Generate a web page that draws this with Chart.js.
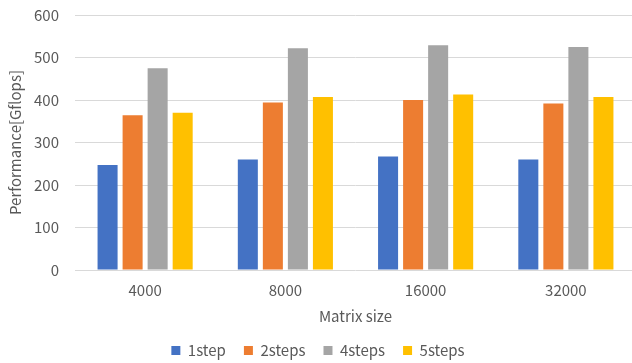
<!DOCTYPE html>
<html>
<head>
<meta charset="utf-8">
<script src="https://cdn.jsdelivr.net/npm/chart.js@4"></script>
<style>
  html, body { margin: 0; padding: 0; background: #fff; overflow: hidden; }
  #wrap { width: 636px; height: 363px; }
</style>
</head>
<body>
<div id="wrap"><canvas id="perfChart"></canvas></div>
<script>
// datos
const matrixSizes = ["4000", "8000", "16000", "32000"];
const seriesNames = ["1step", "2steps", "4steps", "5steps"];
const step1 = [247, 260, 267, 260];
const steps2 = [364, 394, 400, 392];
const steps4 = [475, 522, 529, 525];
const steps5 = [370, 407, 413, 407];
const yTicks = [0, 100, 200, 300, 400, 500, 600];

const colors = ["#4472C4", "#ED7D31", "#A5A5A5", "#FFC000"];
const textColor = "#595959";
const fontFamily = "'Noto Sans CJK JP', 'Noto Sans', sans-serif";

const allSeries = [step1, steps2, steps4, steps5];

// fijamos la altura de la leyenda para que el área del gráfico quede igual que el original
const legendHeightPlugin = {
  id: "legendHeight",
  afterInit(chart) {
    const legend = chart.legend;
    if (!legend) return;
    const origFit = legend.fit;
    legend.fit = function () {
      origFit.call(this);
      this.height = 38;
    };
  },
};

const ctx = document.getElementById("perfChart").getContext("2d");
new Chart(ctx, {
  type: "bar",
  data: {
    labels: matrixSizes,
    datasets: allSeries.map((values, i) => ({
      label: seriesNames[i],
      data: values,
      backgroundColor: colors[i],
      categoryPercentage: 0.714,
      barPercentage: 0.8,
    })),
  },
  plugins: [legendHeightPlugin],
  options: {
    responsive: true,
    maintainAspectRatio: false,
    animation: false,
    layout: { padding: { left: 0, right: 0, top: 0, bottom: 0 } },
    plugins: {
      tooltip: { enabled: false },
      legend: {
        position: "bottom",
        labels: {
          boxWidth: 9,
          boxHeight: 9,
          padding: 18,
          color: textColor,
          font: { family: fontFamily, size: 15 },
        },
      },
    },
    scales: {
      x: {
        grid: { display: false },
        border: { display: false },
        ticks: { color: textColor, font: { family: fontFamily, size: 15 }, padding: 3 },
        title: {
          display: true,
          text: "Matrix size",
          color: textColor,
          font: { family: fontFamily, size: 15 },
          padding: { top: 4, bottom: 0 },
        },
        afterFit: (scale) => { scale.height = 55; },
      },
      y: {
        min: 0,
        max: 600,
        grid: { color: "#D9D9D9", lineWidth: 1, drawTicks: false },
        border: { display: false },
        afterBuildTicks: (scale) => { scale.ticks = yTicks.map((v) => ({ value: v })); },
        ticks: { color: textColor, font: { family: fontFamily, size: 15 }, padding: 16 },
        title: {
          display: true,
          text: "Performance[Gflops]",
          color: textColor,
          font: { family: fontFamily, size: 15 },
          padding: { top: 6, bottom: 6 },
        },
        afterFit: (scale) => {
          scale.width = 75;
          scale.paddingTop = 15;
        },
      },
    },
  },
});
</script>
</body>
</html>
